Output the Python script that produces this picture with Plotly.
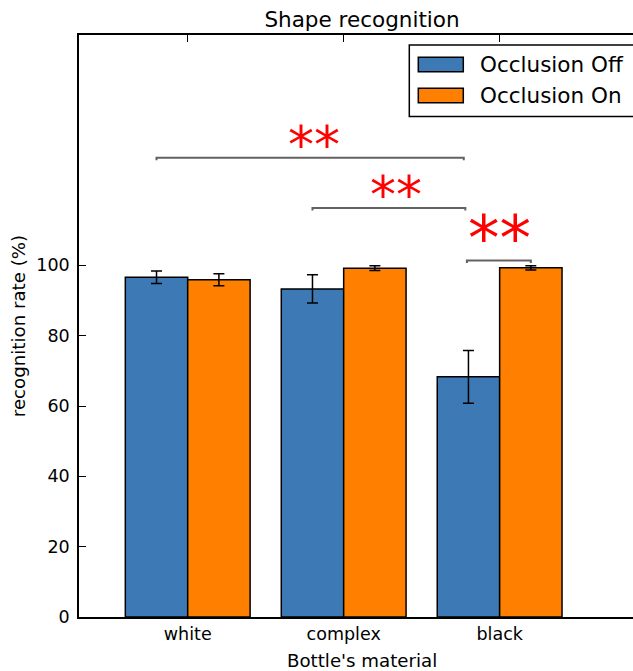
import plotly.graph_objects as go

# Recognition rate (%) per bottle material, with and without occlusion
materials = ["white", "complex", "black"]
occlusion_off = [96.6, 93.3, 68.3]
occlusion_off_err = [1.8, 4.0, 7.5]
occlusion_on = [95.9, 99.2, 99.3]
occlusion_on_err = [1.7, 0.7, 0.6]
series_names = ["Occlusion Off", "Occlusion On"]
y_ticks = [0, 20, 40, 60, 80, 100]

# Significance brackets: (x start, x end, height, label)
sig_x0 = [-0.2, 0.8, 1.79]
sig_x1 = [1.77, 1.78, 2.2]
sig_y = [130.6, 116.3, 101.4]
sig_labels = ["**", "**", "**"]

BLUE = "#3d7ab5"
ORANGE = "#ff7f00"
FONT = "DejaVu Sans"

W, H = 633, 671
L, R, T, B = 79, 633, 35, 617  # plot area in pixels
AXES_CENTER = 362  # horizontal centre of the full axes box (extends past the right edge)


def px(x):
    return (x - L) / (R - L)


def py(y):
    return (B - y) / (B - T)


xpos = list(range(len(materials)))

fig = go.Figure()
fig.add_trace(go.Bar(
    x=xpos, y=occlusion_off, name=series_names[0],
    marker=dict(color=BLUE, line=dict(color="black", width=1.5)),
    error_y=dict(type="data", array=occlusion_off_err, color="black",
                 thickness=1.5, width=5.5),
))
fig.add_trace(go.Bar(
    x=xpos, y=occlusion_on, name=series_names[1],
    marker=dict(color=ORANGE, line=dict(color="black", width=1.5)),
    error_y=dict(type="data", array=occlusion_on_err, color="black",
                 thickness=1.5, width=5.5),
))

# significance brackets with short downward end ticks
for x0, x1, y in zip(sig_x0, sig_x1, sig_y):
    fig.add_trace(go.Scatter(
        x=[x0, x0, x1, x1], y=[y - 0.7, y, y, y - 0.7], mode="lines",
        line=dict(color="rgba(70,70,70,0.85)", width=2),
        hoverinfo="skip", showlegend=False,
    ))

star_x = [0.812, 1.335, 1.996]
star_y = [sig_y[0] + 2.5, sig_y[1] + 2.5, sig_y[2] + 5.0]
star_size = [52, 52, 63]
for x, y, s, t in zip(star_x, star_y, star_size, sig_labels):
    fig.add_annotation(x=x, y=y, text=t, showarrow=False, xanchor="center",
                       yanchor="bottom", yshift=-s * 0.58 + 2,
                       font=dict(family=FONT, size=s, color="red"))

# legend drawn as a framed box with wide colour patches
fig.add_shape(type="rect", xref="paper", yref="paper",
              x0=px(409.3), x1=px(640), y0=py(116.5), y1=py(45),
              line=dict(color="black", width=1.5), fillcolor="white", layer="above")
for name, color, (ya, yb) in zip(series_names, [BLUE, ORANGE],
                                 [(57.3, 71.7), (88.3, 102.7)]):
    fig.add_shape(type="rect", xref="paper", yref="paper",
                  x0=px(418.3), x1=px(463.3), y0=py(yb), y1=py(ya),
                  line=dict(color="black", width=1.5), fillcolor=color, layer="above")
    fig.add_annotation(xref="paper", yref="paper", x=px(478), y=py((ya + yb) / 2),
                       text=name, showarrow=False, xanchor="left", yanchor="middle",
                       font=dict(family=FONT, size=21.5, color="black"))

# x-axis title centred under the full axes box
fig.add_annotation(xref="paper", yref="paper", x=px(AXES_CENTER), y=py(660),
                   text="Bottle's material", showarrow=False,
                   xanchor="center", yanchor="middle",
                   font=dict(family=FONT, size=18.2, color="black"))

fig.update_layout(
    width=W, height=H,
    margin=dict(l=L, r=W - R, t=T, b=H - B),
    paper_bgcolor="white", plot_bgcolor="white",
    barmode="group", bargap=0.2, bargroupgap=0,
    showlegend=False,
    font=dict(family=FONT, size=17.5, color="black"),
    title=dict(text="Shape recognition", x=px(AXES_CENTER), xanchor="center",
               y=1 - 19 / H, yanchor="middle", xref="paper",
               font=dict(family=FONT, size=21.5, color="black")),
)
fig.update_xaxes(
    range=[-0.697, 2.855], tickvals=xpos, ticktext=materials,
    showline=True, linecolor="black", linewidth=1.5, mirror="ticks",
    ticks="inside", ticklen=7, tickcolor="black", tickwidth=1,
    showgrid=False, zeroline=False,
)
fig.update_yaxes(
    range=[0, 165.5], tickvals=y_ticks,
    showline=True, linecolor="black", linewidth=1.5,
    ticks="inside", ticklen=7, tickcolor="black", tickwidth=1,
    showgrid=False, zeroline=False, ticklabelstandoff=4,
    title=dict(text="recognition rate (%)", standoff=6,
               font=dict(family=FONT, size=18.2)),
)

fig.write_html("out.html")
